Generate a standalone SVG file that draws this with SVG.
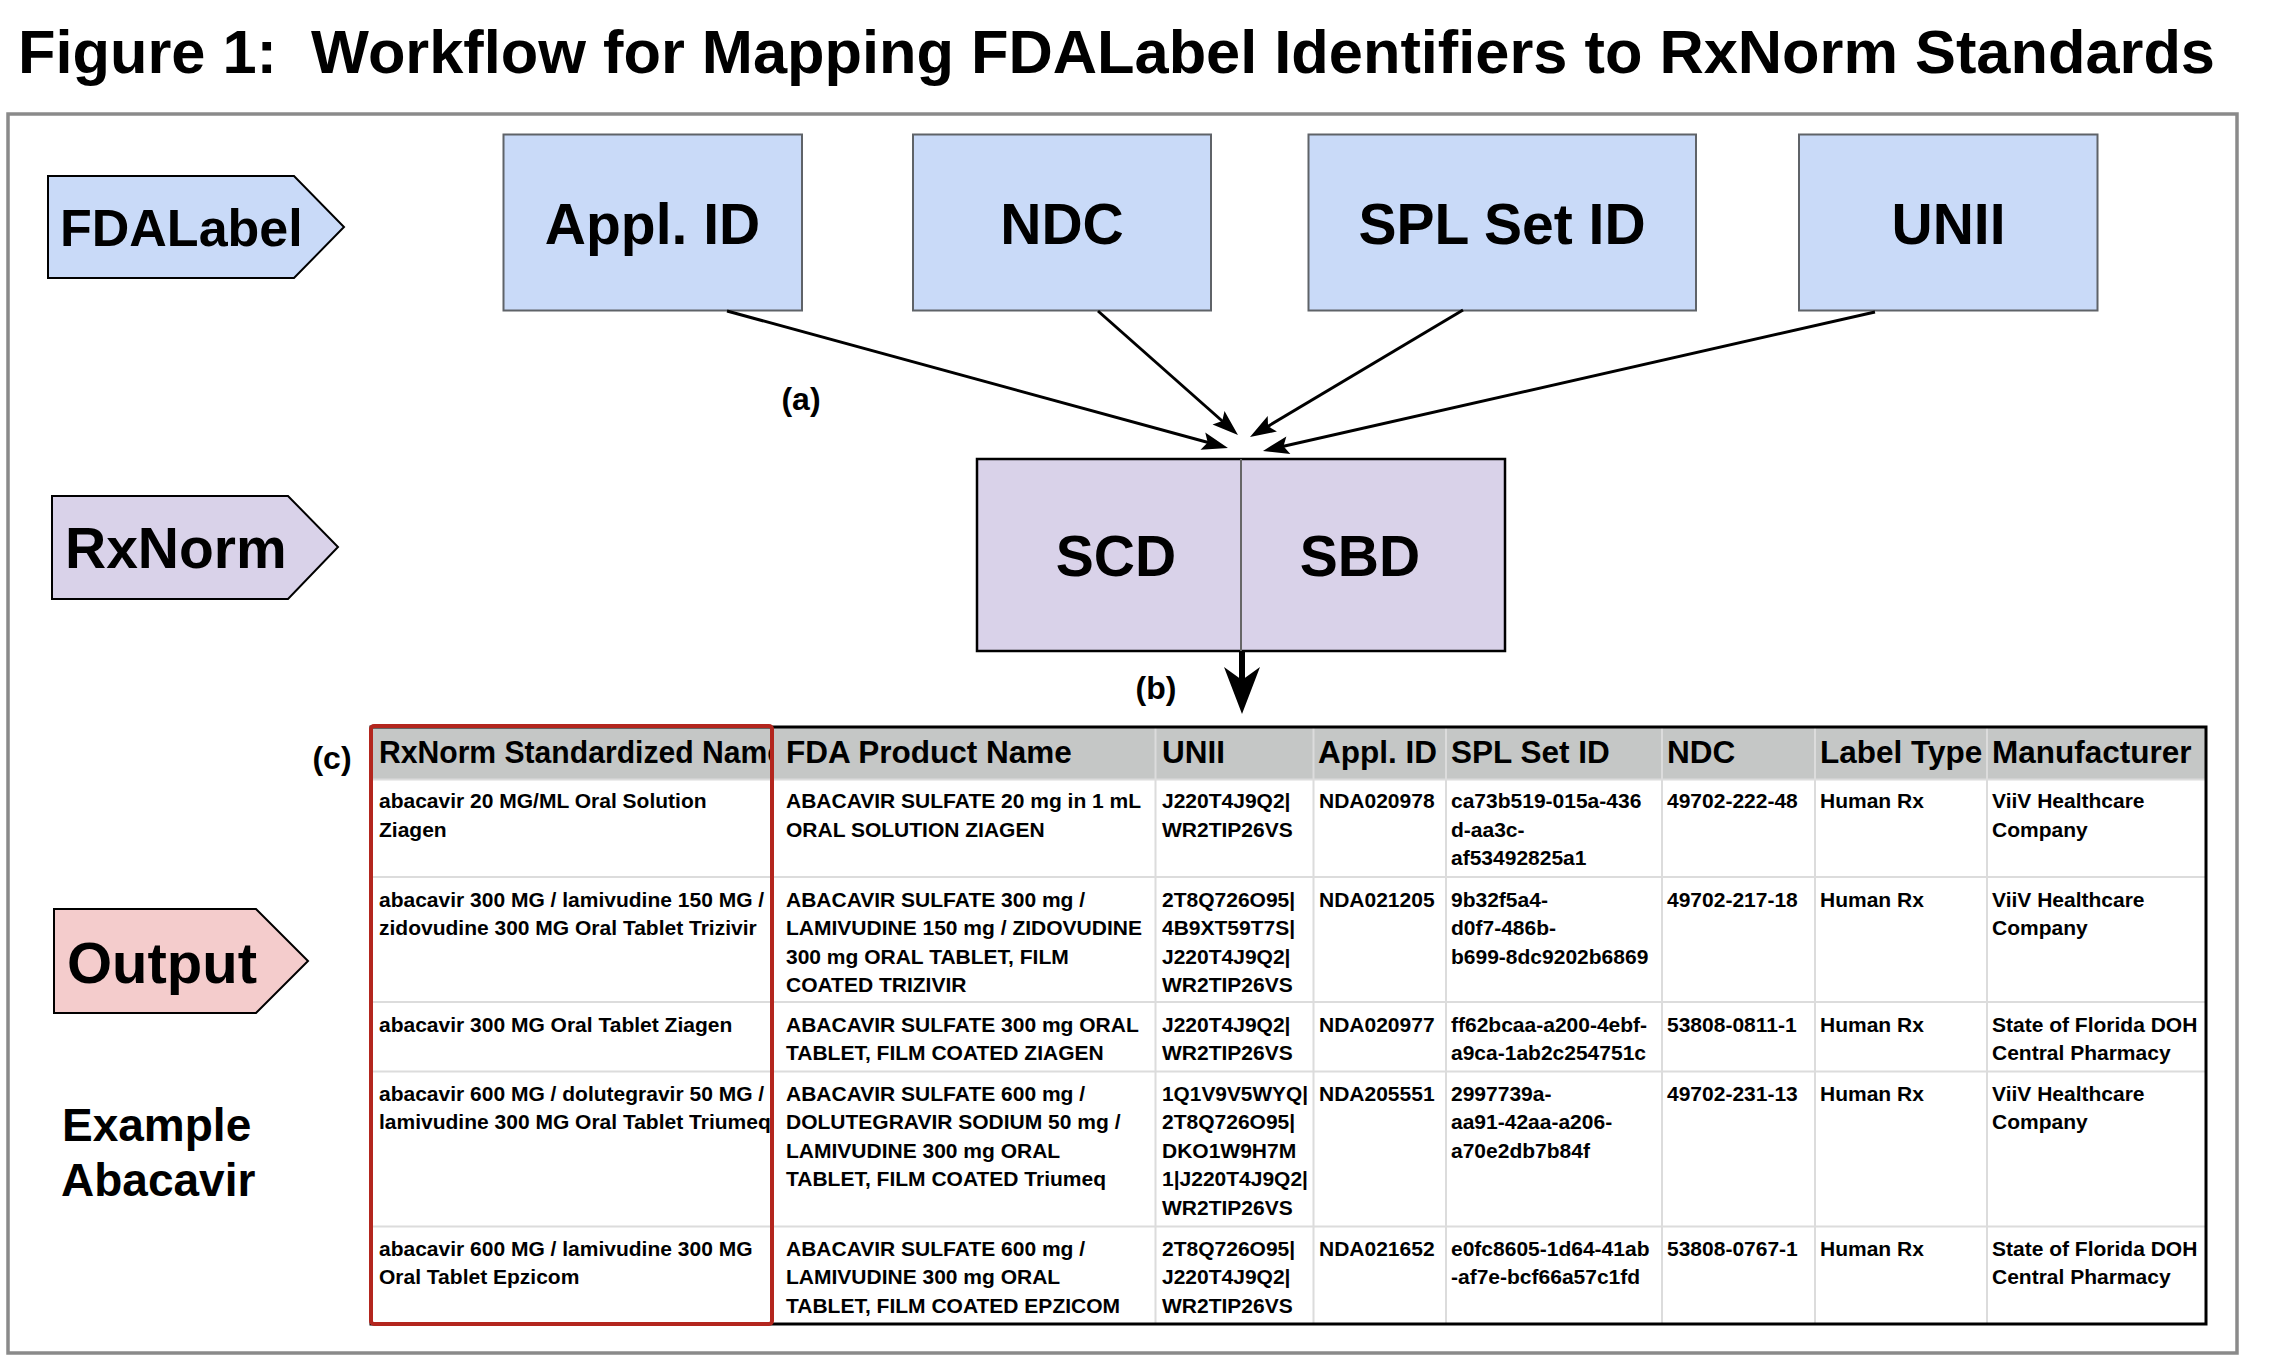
<svg xmlns="http://www.w3.org/2000/svg" width="2276" height="1364" viewBox="0 0 2276 1364">
<style>
.t{font-family:"Liberation Sans",Arial,sans-serif;font-weight:bold;fill:#000}
.box{fill:#c9daf8;stroke:#5f6368;stroke-width:2}
.rx{fill:#d9d2e9;stroke:#000;stroke-width:2.5}
.pent{stroke:#000;stroke-width:2}
.conn{stroke:#000;stroke-width:3;fill:none}
.grid{stroke:#dcdcdc;stroke-width:2}
.cell{font-family:"Liberation Sans",Arial,sans-serif;font-weight:bold;font-size:21px;fill:#000}
.hdr{font-family:"Liberation Sans",Arial,sans-serif;font-weight:bold;font-size:31.5px;fill:#000}
</style>
<defs>
<marker id="ah" markerUnits="userSpaceOnUse" markerWidth="40" markerHeight="30" viewBox="-30 -15 32 30" refX="-12" refY="0" orient="auto">
<path d="M0,0 L-26,-9 L-21,0 L-26,9 Z" fill="#000"/>
</marker>
<marker id="ahBig" markerUnits="userSpaceOnUse" markerWidth="60" markerHeight="50" viewBox="-50 -25 52 50" refX="-30" refY="0" orient="auto">
<path d="M0,0 L-47,-18 L-34,0 L-47,18 Z" fill="#000"/>
</marker>
<clipPath id="c1"><rect x="371" y="726" width="400" height="600"/></clipPath>
</defs>
<rect x="0" y="0" width="2276" height="1364" fill="#fff"/>
<text class="t" x="18" y="73" font-size="61" textLength="2197" lengthAdjust="spacingAndGlyphs" xml:space="preserve">Figure 1:  Workflow for Mapping FDALabel Identifiers to RxNorm Standards</text>
<rect id="frame" x="8" y="114" width="2229" height="1239" fill="none" stroke="#8a8a8a" stroke-width="3.5"/>

<g id="lbl-fdalabel">
<polygon class="pent" fill="#c9daf8" points="48,176 294,176 344,227 294,278 48,278"/>
<text class="t" x="60" y="246" font-size="52">FDALabel</text>
</g>
<g id="lbl-rxnorm">
<polygon class="pent" fill="#d9d2e9" points="52,496 288,496 338,547 288,599 52,599"/>
<text class="t" x="65" y="568" font-size="57">RxNorm</text>
</g>
<g id="lbl-output">
<polygon class="pent" fill="#f4cccc" points="54,909 256,909 308,961 256,1013 54,1013"/>
<text class="t" x="67" y="983" font-size="58">Output</text>
</g>
<g id="lbl-example">
<text class="t" x="62" y="1141" font-size="46">Example</text>
<text class="t" x="61" y="1196" font-size="46">Abacavir</text>
</g>

<g id="node-applid">
<rect class="box" x="503.5" y="134.5" width="298.5" height="176"/>
<text class="t" x="652.5" y="244" font-size="57" text-anchor="middle">Appl. ID</text>
</g>
<g id="node-ndc">
<rect class="box" x="913" y="134.5" width="298" height="176"/>
<text class="t" x="1062" y="244" font-size="57" text-anchor="middle">NDC</text>
</g>
<g id="node-splsetid">
<rect class="box" x="1308.5" y="134.5" width="387.5" height="176"/>
<text class="t" x="1502" y="244" font-size="57" text-anchor="middle">SPL Set ID</text>
</g>
<g id="node-unii">
<rect class="box" x="1799" y="134.5" width="298.5" height="176"/>
<text class="t" x="1948.5" y="244" font-size="57" text-anchor="middle">UNII</text>
</g>

<g id="node-rxnorm">
<rect class="rx" x="977" y="459" width="528" height="192"/>
<line x1="1241" y1="459" x2="1241" y2="651" stroke="#666" stroke-width="2"/>
<text class="t" x="1116" y="576" font-size="57" text-anchor="middle">SCD</text>
<text class="t" x="1360" y="576" font-size="57" text-anchor="middle">SBD</text>
</g>

<g id="connectors">
<line class="conn" x1="727" y1="311" x2="1216.4" y2="444.8" marker-end="url(#ah)"/>
<line class="conn" x1="1098" y1="311" x2="1229" y2="427" marker-end="url(#ah)"/>
<line class="conn" x1="1463" y1="310" x2="1260.3" y2="430.9" marker-end="url(#ah)"/>
<line class="conn" x1="1875" y1="312" x2="1274.7" y2="448.3" marker-end="url(#ah)"/>
<line x1="1242" y1="651" x2="1242" y2="684" stroke="#000" stroke-width="6" marker-end="url(#ahBig)"/>
<text class="t" x="801" y="410" font-size="32" text-anchor="middle">(a)</text>
<text class="t" x="1156" y="699" font-size="32" text-anchor="middle">(b)</text>
<text class="t" x="332" y="769" font-size="32" text-anchor="middle">(c)</text>
</g>

<g id="output-table">
<rect x="371" y="727" width="1835" height="597" fill="#fff"/>
<rect x="371" y="728" width="1835" height="51.5" fill="#c5c7c6"/>
<g class="grid">
<line x1="371" y1="779.5" x2="2206" y2="779.5"/>
<line x1="371" y1="877" x2="2206" y2="877"/>
<line x1="371" y1="1002" x2="2206" y2="1002"/>
<line x1="371" y1="1071.5" x2="2206" y2="1071.5"/>
<line x1="371" y1="1226.5" x2="2206" y2="1226.5"/>
<line x1="772" y1="727" x2="772" y2="1324"/>
<line x1="1155.5" y1="727" x2="1155.5" y2="1324"/>
<line x1="1313.5" y1="727" x2="1313.5" y2="1324"/>
<line x1="1446" y1="727" x2="1446" y2="1324"/>
<line x1="1662" y1="727" x2="1662" y2="1324"/>
<line x1="1815" y1="727" x2="1815" y2="1324"/>
<line x1="1987" y1="727" x2="1987" y2="1324"/>
</g>
<rect x="371" y="727" width="1835" height="597" fill="none" stroke="#000" stroke-width="3"/>

<text class="hdr" y="763" clip-path="url(#c1)"><tspan x="379" textLength="405" lengthAdjust="spacingAndGlyphs">RxNorm Standardized Name</tspan></text>
<text class="hdr" y="763"><tspan x="786">FDA Product Name</tspan><tspan x="1162">UNII</tspan><tspan x="1318">Appl. ID</tspan><tspan x="1451">SPL Set ID</tspan><tspan x="1667">NDC</tspan><tspan x="1820">Label Type</tspan><tspan x="1992">Manufacturer</tspan></text>

<g clip-path="url(#c1)">
<text class="cell"><tspan x="379" y="808">abacavir 20 MG/ML Oral Solution</tspan><tspan x="379" y="836.5">Ziagen</tspan></text>
<text class="cell"><tspan x="379" y="906.5">abacavir 300 MG / lamivudine 150 MG /</tspan><tspan x="379" y="935">zidovudine 300 MG Oral Tablet Trizivir</tspan></text>
<text class="cell"><tspan x="379" y="1031.5">abacavir 300 MG Oral Tablet Ziagen</tspan></text>
<text class="cell"><tspan x="379" y="1100.5">abacavir 600 MG / dolutegravir 50 MG /</tspan><tspan x="379" y="1129">lamivudine 300 MG Oral Tablet Triumeq</tspan></text>
<text class="cell"><tspan x="379" y="1255.5">abacavir 600 MG / lamivudine 300 MG</tspan><tspan x="379" y="1284">Oral Tablet Epzicom</tspan></text>
</g>

<text class="cell"><tspan x="786" y="808">ABACAVIR SULFATE 20 mg in 1 mL</tspan><tspan x="786" y="836.5">ORAL SOLUTION ZIAGEN</tspan></text>
<text class="cell"><tspan x="1162" y="808">J220T4J9Q2|</tspan><tspan x="1162" y="836.5">WR2TIP26VS</tspan></text>
<text class="cell"><tspan x="1319" y="808">NDA020978</tspan></text>
<text class="cell"><tspan x="1451" y="808">ca73b519-015a-436</tspan><tspan x="1451" y="836.5">d-aa3c-</tspan><tspan x="1451" y="865">af53492825a1</tspan></text>
<text class="cell"><tspan x="1667" y="808">49702-222-48</tspan></text>
<text class="cell"><tspan x="1820" y="808">Human Rx</tspan></text>
<text class="cell"><tspan x="1992" y="808">ViiV Healthcare</tspan><tspan x="1992" y="836.5">Company</tspan></text>

<text class="cell"><tspan x="786" y="906.5">ABACAVIR SULFATE 300 mg /</tspan><tspan x="786" y="935">LAMIVUDINE 150 mg / ZIDOVUDINE</tspan><tspan x="786" y="963.5">300 mg ORAL TABLET, FILM</tspan><tspan x="786" y="992">COATED TRIZIVIR</tspan></text>
<text class="cell"><tspan x="1162" y="906.5">2T8Q726O95|</tspan><tspan x="1162" y="935">4B9XT59T7S|</tspan><tspan x="1162" y="963.5">J220T4J9Q2|</tspan><tspan x="1162" y="992">WR2TIP26VS</tspan></text>
<text class="cell"><tspan x="1319" y="906.5">NDA021205</tspan></text>
<text class="cell"><tspan x="1451" y="906.5">9b32f5a4-</tspan><tspan x="1451" y="935">d0f7-486b-</tspan><tspan x="1451" y="963.5">b699-8dc9202b6869</tspan></text>
<text class="cell"><tspan x="1667" y="906.5">49702-217-18</tspan></text>
<text class="cell"><tspan x="1820" y="906.5">Human Rx</tspan></text>
<text class="cell"><tspan x="1992" y="906.5">ViiV Healthcare</tspan><tspan x="1992" y="935">Company</tspan></text>

<text class="cell"><tspan x="786" y="1031.5">ABACAVIR SULFATE 300 mg ORAL</tspan><tspan x="786" y="1060">TABLET, FILM COATED ZIAGEN</tspan></text>
<text class="cell"><tspan x="1162" y="1031.5">J220T4J9Q2|</tspan><tspan x="1162" y="1060">WR2TIP26VS</tspan></text>
<text class="cell"><tspan x="1319" y="1031.5">NDA020977</tspan></text>
<text class="cell"><tspan x="1451" y="1031.5">ff62bcaa-a200-4ebf-</tspan><tspan x="1451" y="1060">a9ca-1ab2c254751c</tspan></text>
<text class="cell"><tspan x="1667" y="1031.5">53808-0811-1</tspan></text>
<text class="cell"><tspan x="1820" y="1031.5">Human Rx</tspan></text>
<text class="cell"><tspan x="1992" y="1031.5">State of Florida DOH</tspan><tspan x="1992" y="1060">Central Pharmacy</tspan></text>

<text class="cell"><tspan x="786" y="1100.5">ABACAVIR SULFATE 600 mg /</tspan><tspan x="786" y="1129">DOLUTEGRAVIR SODIUM 50 mg /</tspan><tspan x="786" y="1157.5">LAMIVUDINE 300 mg ORAL</tspan><tspan x="786" y="1186">TABLET, FILM COATED Triumeq</tspan></text>
<text class="cell"><tspan x="1162" y="1100.5" textLength="146" lengthAdjust="spacingAndGlyphs">1Q1V9V5WYQ|</tspan><tspan x="1162" y="1129">2T8Q726O95|</tspan><tspan x="1162" y="1157.5">DKO1W9H7M</tspan><tspan x="1162" y="1186" textLength="146" lengthAdjust="spacingAndGlyphs">1|J220T4J9Q2|</tspan><tspan x="1162" y="1214.5">WR2TIP26VS</tspan></text>
<text class="cell"><tspan x="1319" y="1100.5">NDA205551</tspan></text>
<text class="cell"><tspan x="1451" y="1100.5">2997739a-</tspan><tspan x="1451" y="1129">aa91-42aa-a206-</tspan><tspan x="1451" y="1157.5">a70e2db7b84f</tspan></text>
<text class="cell"><tspan x="1667" y="1100.5">49702-231-13</tspan></text>
<text class="cell"><tspan x="1820" y="1100.5">Human Rx</tspan></text>
<text class="cell"><tspan x="1992" y="1100.5">ViiV Healthcare</tspan><tspan x="1992" y="1129">Company</tspan></text>

<text class="cell"><tspan x="786" y="1255.5">ABACAVIR SULFATE 600 mg /</tspan><tspan x="786" y="1284">LAMIVUDINE 300 mg ORAL</tspan><tspan x="786" y="1312.5">TABLET, FILM COATED EPZICOM</tspan></text>
<text class="cell"><tspan x="1162" y="1255.5">2T8Q726O95|</tspan><tspan x="1162" y="1284">J220T4J9Q2|</tspan><tspan x="1162" y="1312.5">WR2TIP26VS</tspan></text>
<text class="cell"><tspan x="1319" y="1255.5">NDA021652</tspan></text>
<text class="cell"><tspan x="1451" y="1255.5">e0fc8605-1d64-41ab</tspan><tspan x="1451" y="1284">-af7e-bcf66a57c1fd</tspan></text>
<text class="cell"><tspan x="1667" y="1255.5">53808-0767-1</tspan></text>
<text class="cell"><tspan x="1820" y="1255.5">Human Rx</tspan></text>
<text class="cell"><tspan x="1992" y="1255.5">State of Florida DOH</tspan><tspan x="1992" y="1284">Central Pharmacy</tspan></text>

<rect id="highlight" x="371" y="726" width="401" height="598" rx="3" fill="none" stroke="#b3261e" stroke-width="4"/>
</g>
</svg>
